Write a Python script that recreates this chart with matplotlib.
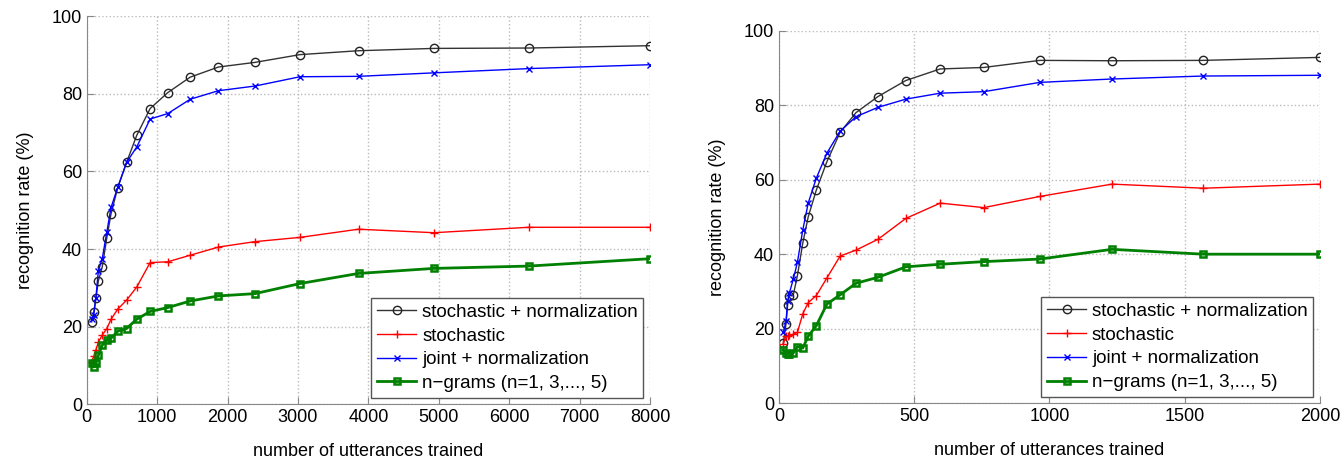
import matplotlib
matplotlib.use('Agg')
import matplotlib.pyplot as plt

plt.rcParams['font.family'] = ['Liberation Sans', 'DejaVu Sans']

series_labels = ['stochastic + normalization', 'stochastic',
                 'joint + normalization', 'n\u2212grams (n=1, 3,..., 5)']

# left panel
x_left = [70, 100, 130, 165, 220, 285, 345, 440, 565, 710, 900, 1150, 1470,
          1870, 2390, 3030, 3860, 4930, 6280, 8000]
stoch_norm_left = [21.2, 23.8, 27.3, 31.8, 35.4, 42.9, 49.1, 55.8, 62.3, 69.3,
                   76.2, 80.3, 84.3, 86.9, 88.1, 90.1, 91.1, 91.7, 91.8, 92.4]
stoch_left = [11.0, 12.3, 14.0, 16.0, 17.8, 19.5, 21.9, 24.5, 26.8, 30.2,
              36.5, 36.7, 38.4, 40.5, 41.9, 43.0, 45.1, 44.2, 45.6, 45.6]
joint_norm_left = [22.0, 23.0, 27.5, 34.4, 37.5, 44.4, 50.7, 55.9, 62.3, 66.3,
                   73.5, 74.9, 78.6, 80.8, 82.0, 84.4, 84.5, 85.4, 86.5, 87.5]
ngram_left = [10.5, 9.6, 10.5, 12.6, 15.2, 16.6, 17.0, 18.8, 19.5, 21.9,
              23.9, 24.9, 26.6, 27.9, 28.5, 31.1, 33.7, 35.0, 35.6, 37.5]

# right panel
x_right = [16, 26, 32, 38, 53, 68, 88, 108, 138, 177, 226, 285, 366, 469,
           596, 757, 965, 1231, 1569, 2000]
stoch_norm_right = [16.1, 21.3, 26.5, 28.9, 29.1, 34.2, 43.0, 50.0, 57.2, 64.8,
                    72.7, 78.0, 82.3, 86.6, 89.7, 90.1, 92.0, 91.9, 92.0, 92.8]
stoch_right = [16.0, 18.0, 18.0, 18.2, 18.5, 19.0, 24.0, 27.0, 28.9, 33.6,
               39.5, 41.1, 44.0, 49.6, 53.7, 52.5, 55.5, 58.8, 57.7, 58.8]
joint_norm_right = [19.0, 22.0, 27.5, 29.5, 33.3, 37.8, 46.5, 53.7, 60.4, 67.1,
                    73.0, 76.9, 79.4, 81.6, 83.2, 83.6, 86.1, 87.0, 87.8, 88.0]
ngram_right = [14.3, 13.5, 13.3, 13.3, 13.5, 15.2, 14.8, 18.0, 20.8, 26.6,
               29.1, 32.2, 33.8, 36.6, 37.3, 38.0, 38.7, 41.3, 40.0, 40.0]

fig = plt.figure(figsize=(13.41, 4.63), dpi=100)
ax1 = fig.add_axes([0.0647, 0.127, 0.420, 0.838])
ax2 = fig.add_axes([0.5809, 0.129, 0.4034, 0.805])


def draw(ax, x, sn, s, jn, ng, xmax, xstep):
    ax.plot(x, sn, color='#333333', lw=1.0, marker='o', ms=6, mfc='none',
            mec='#222222', mew=1.0, label=series_labels[0])
    ax.plot(x, s, color='red', lw=1.0, marker='+', ms=6, mew=1.0,
            label=series_labels[1])
    ax.plot(x, jn, color='blue', lw=1.0, marker='x', ms=4, mew=1.0,
            label=series_labels[2])
    ax.plot(x, ng, color='#008000', lw=2.0, marker='s', ms=5, mfc='none',
            mec='#008000', mew=1.8, label=series_labels[3])
    ax.set_xlim(0, xmax)
    ax.set_ylim(0, 100)
    ax.set_xticks(range(0, xmax + 1, xstep))
    ax.set_yticks(range(0, 101, 20))
    ax.grid(True, linestyle=':', color='#bbbbbb', lw=1.0)
    ax.set_axisbelow(True)
    for sp in ['top', 'right']:
        ax.spines[sp].set_visible(False)
    for sp in ['left', 'bottom']:
        ax.spines[sp].set_color('#888888')
    ax.tick_params(direction='in', length=5, color='#888888',
                   labelsize=13, labelcolor='black')
    ax.set_xlabel('number of utterances trained', fontsize=13, labelpad=12)
    ax.set_ylabel('recognition rate (%)', fontsize=13, labelpad=13)
    leg = ax.legend(loc='lower right', fontsize=13.5, fancybox=False,
                    framealpha=1, edgecolor='#555555', borderpad=0.3,
                    labelspacing=0.35, handlelength=2.1, handletextpad=0.3,
                    borderaxespad=0.35)
    leg.get_frame().set_linewidth(1.0)


draw(ax1, x_left, stoch_norm_left, stoch_left, joint_norm_left, ngram_left,
     8000, 1000)
draw(ax2, x_right, stoch_norm_right, stoch_right, joint_norm_right,
     ngram_right, 2000, 500)

fig.savefig('out.png', dpi=100)
